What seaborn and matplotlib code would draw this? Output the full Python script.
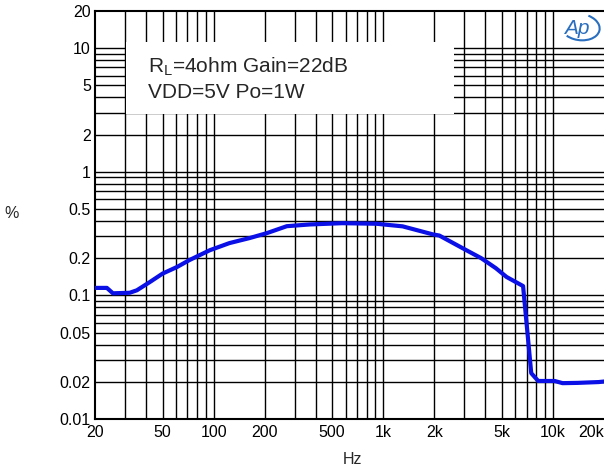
import numpy as np
import pandas as pd
import seaborn as sns
import matplotlib
matplotlib.use("Agg")
import matplotlib.pyplot as plt
from matplotlib.patches import Rectangle, Arc

# ---- data ----
freq_hz = [20, 23.5, 25.5, 32, 35.3, 42, 50, 61, 72, 95, 124, 163, 206, 270, 369,
           574, 910, 1300, 1955, 2140, 3090, 3780, 4610, 5330, 6670, 7450, 8190,
           10240, 11400, 14000, 18600, 20000]
thd_pct = [0.115, 0.115, 0.104, 0.105, 0.110, 0.128, 0.150, 0.170, 0.193, 0.232,
           0.265, 0.291, 0.319, 0.363, 0.375, 0.384, 0.380, 0.362, 0.312, 0.305,
           0.232, 0.200, 0.166, 0.141, 0.119, 0.0235, 0.0203, 0.0203, 0.0195,
           0.0196, 0.0199, 0.0201]

x_ticks = [20, 50, 100, 200, 500, 1000, 2000, 5000, 10000, 20000]
x_tick_labels = ["20", "50", "100", "200", "500", "1k", "2k", "5k", "10k", "20k"]
y_ticks = [0.01, 0.02, 0.05, 0.1, 0.2, 0.5, 1, 2, 5, 10, 20]
y_tick_labels = ["0.01", "0.02", "0.05", "0.1", "0.2", "0.5", "1", "2", "5", "10", "20"]

annotation_lines = ["R$_\\mathregular{L}$=4ohm Gain=22dB", "VDD=5V Po=1W"]

df = pd.DataFrame({"Hz": freq_hz, "%": thd_pct})

sns.set_style("white")
plt.rcParams["font.family"] = ["Liberation Sans", "DejaVu Sans"]
plt.rcParams["mathtext.fontset"] = "custom"
plt.rcParams["mathtext.rm"] = "Liberation Sans"

fig = plt.figure(figsize=(6.04, 4.70), dpi=100)
ax = fig.add_axes([95 / 604, (470 - 419) / 470, 509 / 604, (419 - 11) / 470])

ax.set_xscale("log")
ax.set_yscale("log")
ax.set_xlim(20, 20000)
ax.set_ylim(0.01, 20)

# grid lines (all decade multiples)
xgrid = [m * 10 ** e for e in range(1, 5) for m in range(1, 10)]
xgrid = [v for v in xgrid if 20 < v < 20000]
ygrid = [m * 10 ** e for e in range(-2, 2) for m in range(1, 10)]
ygrid = [v for v in ygrid if 0.01 < v < 20]
for v in xgrid:
    ax.axvline(v, color="black", lw=1.0, zorder=1)
for v in ygrid:
    ax.axhline(v, color="black", lw=1.0, zorder=1)

# white box behind the annotation (hides the grid there)
ax.add_patch(Rectangle((30.6, 2.93), 2600 - 30.6, 11.3 - 2.93, facecolor="white",
                       edgecolor="none", zorder=2))

sns.lineplot(data=df, x="Hz", y="%", ax=ax, color="#0a10e6", lw=3.0, zorder=3,
             estimator=None, sort=False)

ax.text(0.104, 0.863, annotation_lines[0], transform=ax.transAxes, fontsize=15,
        va="center", ha="left", zorder=4)
ax.text(0.104, 0.800, annotation_lines[1], transform=ax.transAxes, fontsize=15,
        va="center", ha="left", zorder=4)

ax.set_xticks(x_ticks)
ax.set_xticklabels(x_tick_labels)
ax.set_yticks(y_ticks)
ax.set_yticklabels(y_tick_labels)
ax.minorticks_off()
ax.tick_params(axis="both", length=0, labelsize=11.5, colors="black")
ax.tick_params(axis="x", pad=4)
ax.tick_params(axis="y", pad=3)
ax.get_xticklabels()[-1].set_ha("right")

ax.set_xlabel("")
ax.set_ylabel("")
fig.text(352 / 604, 1 - 459 / 470, "Hz", fontsize=11.5, ha="center", va="center")
fig.text(12 / 604, 1 - 213 / 470, "%", fontsize=11.5, ha="center", va="center")

for s in ["left", "top", "bottom"]:
    ax.spines[s].set_color("black")
    ax.spines[s].set_linewidth(1.5)
ax.spines["right"].set_visible(False)

# Ap logo
fig.text(577 / 604, 1 - 28 / 470, "Ap", fontsize=15, style="italic", color="#2a6fbf",
         ha="center", va="center")
fig.add_artist(Arc((580 / 604, 1 - 27 / 470), 40 / 604, 26 / 470, angle=-20,
                   theta1=-120, theta2=80, color="#2a6fbf", lw=1.5,
                   transform=fig.transFigure))

fig.savefig("out.png", dpi=100)
